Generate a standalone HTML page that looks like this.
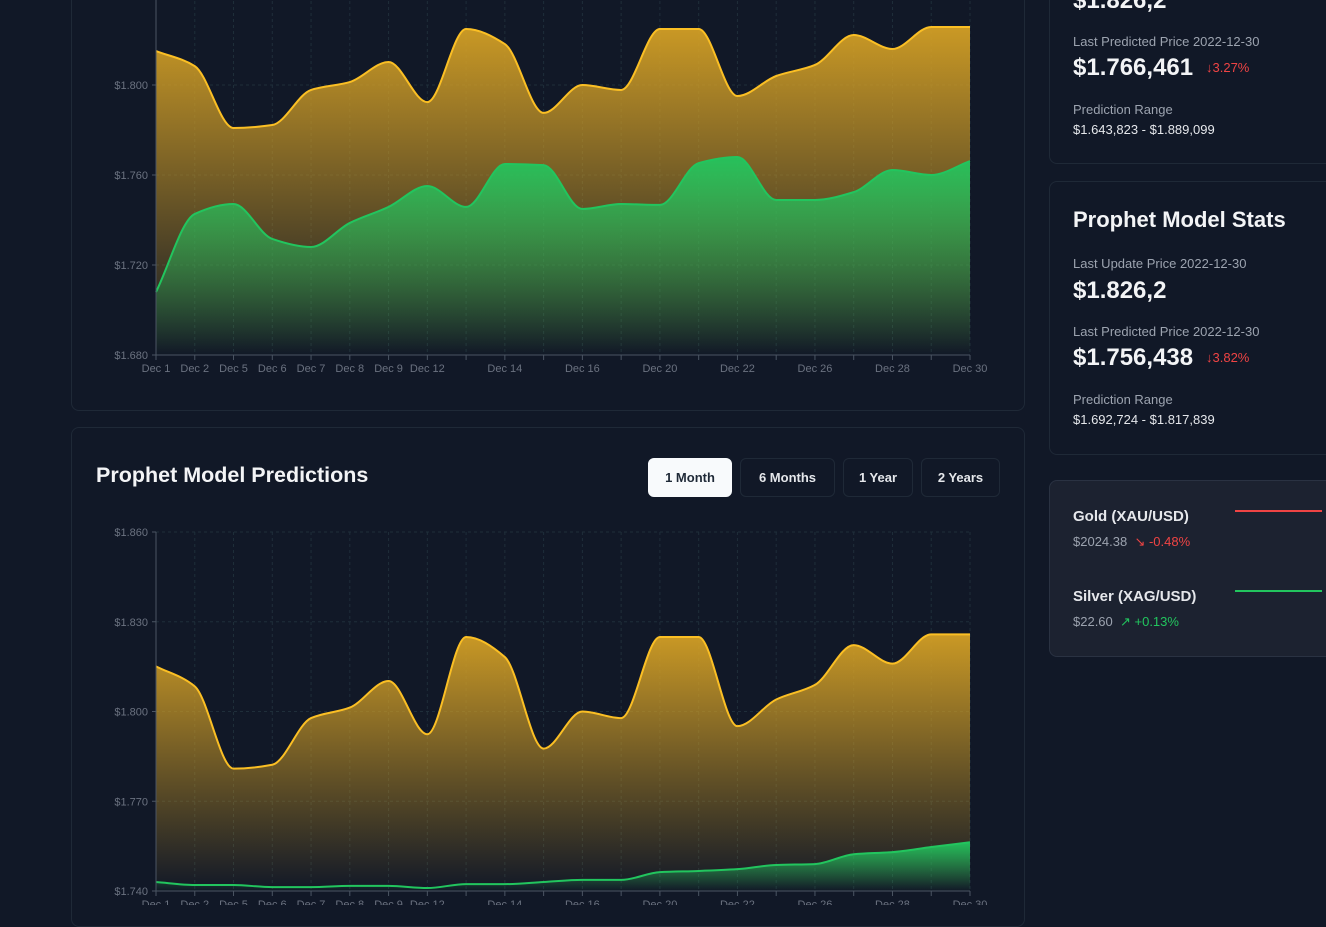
<!DOCTYPE html>
<html><head><meta charset="utf-8"><style>
*{box-sizing:border-box;margin:0;padding:0}
body{width:1326px;height:905px;overflow:hidden;background:#111827;font-family:"Liberation Sans",sans-serif;color:#e5e7eb;position:relative}
.card{position:absolute;border:1px solid #1f2937;border-radius:8px;background:#111827}
.lbl{position:absolute;font-size:13px;color:#9ca3af;white-space:nowrap}
.big{position:absolute;font-size:24px;font-weight:bold;color:#f3f4f6;white-space:nowrap}
.rng{position:absolute;font-size:13px;color:#e5e7eb;white-space:nowrap}
.dn{position:absolute;font-size:13px;color:#ef4444;white-space:nowrap}
.btn{position:absolute;top:458px;height:39px;border:1px solid #1f2937;border-radius:6px;font-size:13px;font-weight:bold;color:#e5e7eb;display:flex;align-items:center;justify-content:center;background:#111827}
svg{position:absolute;left:0;top:0}
</style></head><body>
<div class="card" style="left:71px;top:-20px;width:954px;height:431px"></div>
<div class="card" style="left:71px;top:427px;width:954px;height:500px"></div>
<div style="position:absolute;left:96px;top:463px;font-size:21.5px;font-weight:bold;color:#f3f4f6">Prophet Model Predictions</div>
<div class="btn" style="left:648px;width:84px;background:#f8fafc;color:#1f2937;border-color:#f8fafc">1 Month</div>
<div class="btn" style="left:740px;width:95px">6 Months</div>
<div class="btn" style="left:843px;width:70px">1 Year</div>
<div class="btn" style="left:921px;width:79px">2 Years</div>

<div class="card" style="left:1049px;top:-20px;width:300px;height:184px"></div>
<div class="big" style="left:1073px;top:-13px">$1.826,2</div>
<div class="lbl" style="left:1073px;top:34px">Last Predicted Price 2022-12-30</div>
<div class="big" style="left:1073px;top:54px">$1.766,461</div>
<div class="dn" style="left:1206px;top:60px">↓3.27%</div>
<div class="lbl" style="left:1073px;top:102px">Prediction Range</div>
<div class="rng" style="left:1073px;top:122px">$1.643,823 - $1.889,099</div>

<div class="card" style="left:1049px;top:181px;width:300px;height:274px"></div>
<div style="position:absolute;left:1073px;top:207px;font-size:22px;font-weight:bold;color:#f3f4f6;white-space:nowrap">Prophet Model Stats</div>
<div class="lbl" style="left:1073px;top:256px">Last Update Price 2022-12-30</div>
<div class="big" style="left:1073px;top:277px">$1.826,2</div>
<div class="lbl" style="left:1073px;top:324px">Last Predicted Price 2022-12-30</div>
<div class="big" style="left:1073px;top:344px">$1.756,438</div>
<div class="dn" style="left:1206px;top:350px">↓3.82%</div>
<div class="lbl" style="left:1073px;top:392px">Prediction Range</div>
<div class="rng" style="left:1073px;top:412px">$1.692,724 - $1.817,839</div>

<div class="card" style="left:1049px;top:480px;width:300px;height:177px;background:#1c2230;border-color:#2a3242"></div>
<div style="position:absolute;left:1073px;top:508px;font-size:15px;font-weight:bold;color:#e5e7eb">Gold (XAU/USD)</div>
<div class="lbl" style="left:1073px;top:534px">$2024.38 <span style="color:#ef4444">&nbsp;↘ -0.48%</span></div>
<div style="position:absolute;left:1235px;top:510px;width:87px;height:2px;background:#ef4444"></div>
<div style="position:absolute;left:1073px;top:588px;font-size:15px;font-weight:bold;color:#e5e7eb">Silver (XAG/USD)</div>
<div class="lbl" style="left:1073px;top:614px">$22.60 <span style="color:#22c55e">&nbsp;↗ +0.13%</span></div>
<div style="position:absolute;left:1235px;top:590px;width:87px;height:2px;background:#22c55e"></div>

<svg id="chart" width="1326" height="905">
<defs>
<linearGradient id="gg" x1="0" y1="0" x2="0" y2="1"><stop offset="0" stop-color="#d4a025" stop-opacity="0.95"/><stop offset="1" stop-color="#d4a025" stop-opacity="0"/></linearGradient>
<linearGradient id="gr" x1="0" y1="0" x2="0" y2="1"><stop offset="0" stop-color="#22c55e" stop-opacity="0.95"/><stop offset="1" stop-color="#22c55e" stop-opacity="0"/></linearGradient>
</defs>
</svg>
<script>
const categories=["Dec 1","Dec 2","Dec 5","Dec 6","Dec 7","Dec 8","Dec 9","Dec 12","Dec 13","Dec 14","Dec 15","Dec 16","Dec 19","Dec 20","Dec 21","Dec 22","Dec 23","Dec 26","Dec 27","Dec 28","Dec 29","Dec 30"];
const shownLabels=[1,1,1,1,1,1,1,1,0,1,0,1,0,1,0,1,0,1,0,1,0,1];
const goldValues=[1.8151,1.8084,1.7809,1.7822,1.7978,1.8013,1.8102,1.7924,1.8249,1.8182,1.7876,1.8000,1.7978,1.8249,1.8249,1.7951,1.8040,1.8089,1.8222,1.8160,1.8258,1.8258];
const topPredValues=[1.708,1.7427,1.7471,1.7316,1.728,1.7387,1.7458,1.7551,1.7458,1.7649,1.7644,1.7449,1.7471,1.7467,1.7653,1.768,1.7489,1.7489,1.7524,1.7622,1.76,1.7662];
const bottomPredValues=[1.743,1.742,1.742,1.7413,1.7413,1.7417,1.7417,1.741,1.7423,1.7423,1.743,1.7437,1.7437,1.7463,1.7467,1.7473,1.7487,1.749,1.7523,1.753,1.7547,1.7563];
const topTicks=[1.680,1.720,1.760,1.800];
const bottomTicks=[1.740,1.770,1.800,1.830,1.860];
const NS="http://www.w3.org/2000/svg";
const svg=document.getElementById('chart');
function el(t,a){const e=document.createElementNS(NS,t);for(const k in a)e.setAttribute(k,a[k]);svg.appendChild(e);return e;}
function mono(pts){const n=pts.length,d=[],m=[];for(let i=0;i<n-1;i++)d.push((pts[i+1][1]-pts[i][1])/(pts[i+1][0]-pts[i][0]));m[0]=d[0];m[n-1]=d[n-2];for(let i=1;i<n-1;i++){m[i]=(d[i-1]*d[i]<=0)?0:2/(1/d[i-1]+1/d[i]);}
let s="M"+pts[0][0]+","+pts[0][1];for(let i=0;i<n-1;i++){const h=(pts[i+1][0]-pts[i][0])/3;s+=" C"+(pts[i][0]+h)+","+(pts[i][1]+m[i]*h)+" "+(pts[i+1][0]-h)+","+(pts[i+1][1]-m[i+1]*h)+" "+pts[i+1][0]+","+pts[i+1][1];}return s;}
function chart(name,ymin,ymax,yTop,yBot,ticks,series){
 const x0=156,x1=970;const xs=i=>x0+i*(x1-x0)/(categories.length-1);const ys=v=>yBot-(v-ymin)/(ymax-ymin)*(yBot-yTop);
 ticks.forEach(t=>{const g=el('line',{x1:x0,x2:x1,y1:ys(t),y2:ys(t),stroke:'#1f2e3a','stroke-dasharray':'3,3'});
  const tx=el('text',{x:x0-8,y:ys(t)+4,'text-anchor':'end','font-size':11,fill:'#6b7280'});tx.textContent='$'+t.toFixed(3);
  el('line',{x1:x0-4,x2:x0,y1:ys(t),y2:ys(t),stroke:'#4b5563'});});
 categories.forEach((c,i)=>{const g=el('line',{x1:xs(i),x2:xs(i),y1:yTop,y2:yBot,stroke:'#1f2e3a','stroke-dasharray':'3,3'});
  el('line',{x1:xs(i),x2:xs(i),y1:yBot,y2:yBot+5,stroke:'#4b5563'});
  if(shownLabels[i]){const t=el('text',{x:xs(i),y:yBot+17,'text-anchor':'middle','font-size':11,fill:'#6b7280'});t.textContent=c;}});
 series.forEach(s=>{const pts=s.v.map((v,i)=>[xs(i),ys(v)]);const p=mono(pts);
  const a=el('path',{d:p+" L"+x1+","+yBot+" L"+x0+","+yBot+" Z",fill:'url(#'+s.g+')'});
  const l=el('path',{d:p,fill:'none',stroke:s.c,'stroke-width':2});});
 el('line',{x1:x0,x2:x0,y1:yTop,y2:yBot,stroke:'#4b5563'});el('line',{x1:x0,x2:x1,y1:yBot,y2:yBot,stroke:'#4b5563'});
}
chart('top-chart',1.680,1.840,-5,355,topTicks,[{v:goldValues,c:'#fbbf24',g:'gg',n:'actual'},{v:topPredValues,c:'#22c55e',g:'gr',n:'predicted'}]);
chart('bottom-chart',1.740,1.860,532,891,bottomTicks,[{v:goldValues,c:'#fbbf24',g:'gg',n:'actual'},{v:bottomPredValues,c:'#22c55e',g:'gr',n:'predicted'}]);
</script>
</body></html>
